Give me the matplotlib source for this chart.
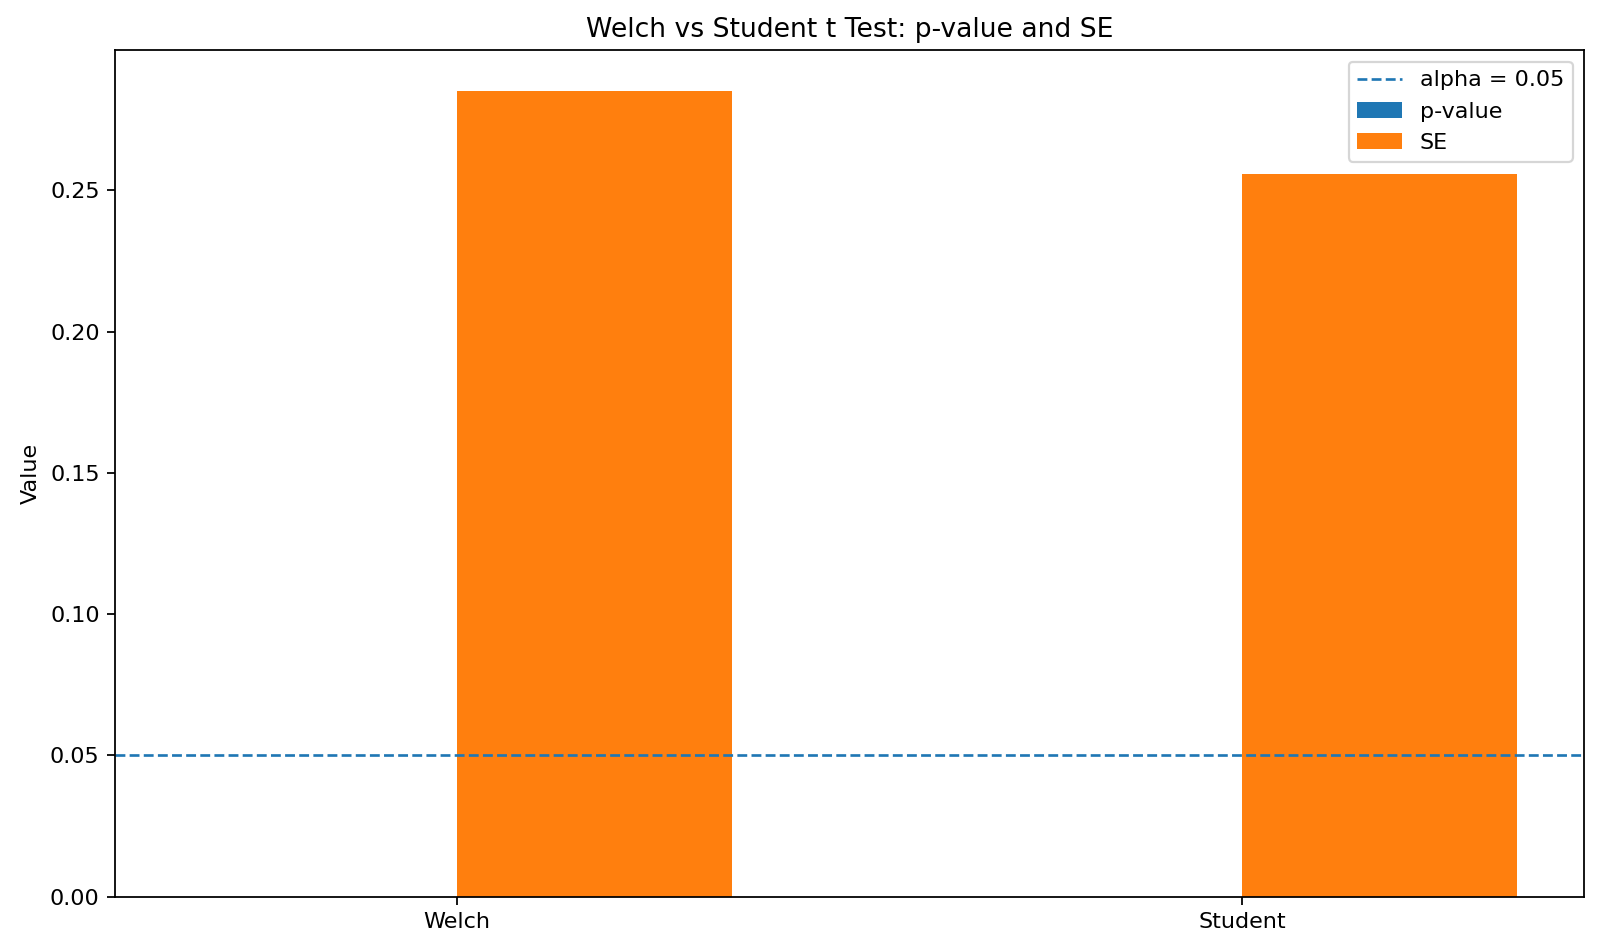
import numpy as np
import matplotlib
matplotlib.use("Agg")
import matplotlib.pyplot as plt

tests    = ["Welch", "Student"]
p_values = [2.1e-9, 1.4e-9]       # too small to see on this scale
se       = [0.2852, 0.2556]
alpha    = 0.05

x = np.arange(len(tests))
width = 0.35

fig, ax = plt.subplots(figsize=(10, 951 / 160), dpi=160)
ax.bar(x - width / 2, p_values, width, label="p-value")
ax.bar(x + width / 2, se, width, label="SE")
ax.axhline(alpha, linestyle="--", linewidth=1.2, label=f"alpha = {alpha}")

ax.set_xticks(x)
ax.set_xticklabels(tests)
ax.set_ylabel("Value")
ax.set_title("Welch vs Student t Test: p-value and SE")
ax.legend()

fig.subplots_adjust(left=0.072, right=0.990, top=0.947, bottom=0.057)
fig.savefig("out.png", dpi=160)
